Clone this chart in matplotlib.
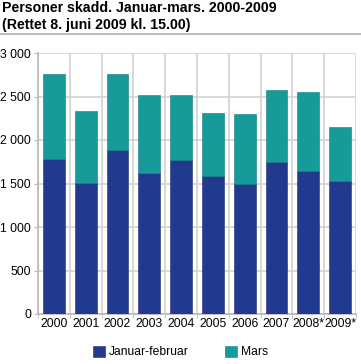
import numpy as np
import matplotlib
matplotlib.use("Agg")
import matplotlib.pyplot as plt
from matplotlib.ticker import MultipleLocator, FuncFormatter, FixedLocator
from matplotlib.lines import Line2D

# ---------------- data ----------------
years = ["2000", "2001", "2002", "2003", "2004", "2005", "2006", "2007", "2008*", "2009*"]
jan_feb = [1782, 1502, 1885, 1617, 1766, 1586, 1498, 1747, 1644, 1525]
mars = [973, 828, 870, 900, 751, 724, 797, 824, 911, 621]

# ---------------- style ----------------
blue = "#223a8e"
teal = "#179b9a"
grid_col = "#d2d2d2"
plt.rcParams["font.family"] = ["Liberation Sans", "DejaVu Sans"]

fig = plt.figure(figsize=(3.61, 3.64), dpi=100)
ax = fig.add_axes([38 / 361, 50 / 364, 318 / 361, 261 / 364])

x = np.arange(len(years))
ax.bar(x, jan_feb, width=0.69, color=blue, edgecolor="#1a2d70", linewidth=0.4,
       label="Januar-februar", zorder=3)
ax.bar(x, mars, width=0.69, bottom=jan_feb, color=teal, edgecolor="#117d7c",
       linewidth=0.4, label="Mars", zorder=3)

ax.set_xlim(-0.5, len(years) - 0.5)
ax.set_ylim(0, 3000)
ax.yaxis.set_major_locator(MultipleLocator(500))
ax.yaxis.set_major_formatter(FuncFormatter(lambda v, p: f"{int(v):,}".replace(",", " ")))
ax.set_xticks(x)
ax.set_xticklabels(years)
ax.xaxis.set_minor_locator(FixedLocator(np.arange(-0.5, len(years), 1.0)))

ax.grid(axis="y", which="major", color=grid_col, linewidth=1.2, zorder=0)
ax.grid(axis="x", which="minor", color=grid_col, linewidth=1.2, zorder=0)

for s in ["top", "right"]:
    ax.spines[s].set_visible(False)
for s in ["left", "bottom"]:
    ax.spines[s].set_color("#b8b8b8")
    ax.spines[s].set_linewidth(1.2)

ax.tick_params(axis="y", which="major", length=3, color="#b8b8b8", labelsize=8.8, pad=2)
ax.tick_params(axis="x", which="major", length=0, labelsize=8.8, pad=3)
ax.tick_params(axis="x", which="minor", length=3, color="#b8b8b8")

# title + separator line
fig.text(2 / 361, 1 - 1 / 364, "Personer skadd. Januar-mars. 2000-2009",
         fontsize=10.2, fontweight="bold", va="top", ha="left")
fig.text(2 / 361, 1 - 18 / 364, "(Rettet 8. juni 2009 kl. 15.00)",
         fontsize=10.2, fontweight="bold", va="top", ha="left")
fig.add_artist(Line2D([0, 1], [1 - 34 / 364, 1 - 34 / 364], transform=fig.transFigure,
                      color="#b0b0b0", linewidth=1.2))

fig.legend(loc="center", bbox_to_anchor=(0.5, 12 / 364), ncol=2, frameon=False,
           fontsize=8.7, handlelength=1.0, handleheight=1.0, columnspacing=3.0,
           handletextpad=0.3)

fig.savefig("out.png", dpi=100)
